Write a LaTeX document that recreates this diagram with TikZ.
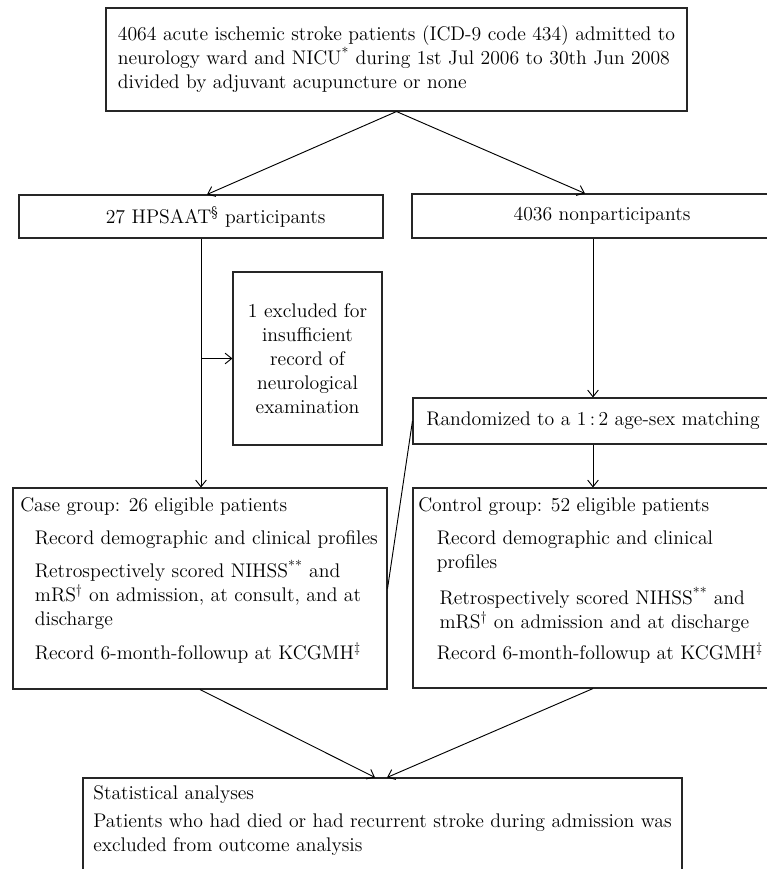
\documentclass[tikz,border=0pt]{standalone}
\usepackage{fontspec}
\usepackage{tikz}
\usetikzlibrary{positioning, arrows.meta, calc}

\newcommand{\boxfont}{\fontsize{14.8}{18}\selectfont}

\begin{document}
\begin{tikzpicture}[
    x=0.75pt, y=-0.75pt,
    box/.style={draw=black!85, rectangle, line width=0.8pt, inner sep=0pt, align=center, font=\boxfont},
    txt/.style={inner sep=0pt, align=left, anchor=north west, font=\boxfont},
    arrow/.style={-{Straight Barb[length=5pt, width=8pt]}, line width=0.7pt},
    link/.style={line width=0.7pt}
]
    \useasboundingbox (0,0) rectangle (767,869);
    \clip (0,0) rectangle (767,869);

    % --- Admission (Top) ---
    \node[box, align=left, minimum width=435.75pt, minimum height=77.25pt] (admit) at (396.5,59.5) {4064 acute ischemic stroke patients (ICD-9 code 434) admitted to\\ neurology ward and NICU\textsuperscript{*} during 1st Jul 2006 to 30th Jun 2008\\ divided by adjuvant acupuncture or none};

    % --- Split ---
    \node[box, minimum width=273pt, minimum height=32.25pt] (hpart) at (201,216.5) {\hspace*{22pt}27 HPSAAT\textsuperscript{\S} participants};
    \node[box, minimum width=285pt, minimum height=33pt] (npart) at (602,216) {4036 nonparticipants};

    \node[box, minimum width=111.75pt, minimum height=129.75pt] (excl) at (307.5,358.5) {1 excluded for\\ insufficient\\ record of\\ neurological\\ examination};
    \node[box, minimum width=270pt, minimum height=34.5pt] (rand) at (593,421) {Randomized to a 1\,:\,2 age-sex matching};

    % --- Groups ---
    \node[box, minimum width=280.5pt, minimum height=150.75pt] (case) at (200,588.5) {};
    \node[txt] (casetxt) at (20,497) {Case group: 26 eligible patients\\[7pt]
        \hspace*{11pt}Record demographic and clinical profiles\\[7pt]
        \hspace*{11pt}Retrospectively scored NIHSS\textsuperscript{**} and\\
        \hspace*{11pt}mRS\textsuperscript{\textdagger} on admission, at consult, and at\\
        \hspace*{11pt}discharge\\[7pt]
        \hspace*{11pt}Record 6-month-followup at KCGMH\textsuperscript{\textdaggerdbl}};

    \node[box, minimum width=270pt, minimum height=150pt] (ctrl) at (593,588) {};
    \node[txt] (ctrltxt) at (418,497) {Control group: 52 eligible patients\\[7pt]
        \hspace*{14pt}Record demographic and clinical\\
        \hspace*{14pt}profiles\\[9pt]
        \hspace*{16pt}Retrospectively scored NIHSS\textsuperscript{**} and\\
        \hspace*{16pt}mRS\textsuperscript{\textdagger} on admission and at discharge\\[5pt]
        \hspace*{14pt}Record 6-month-followup at KCGMH\textsuperscript{\textdaggerdbl}};

    % --- Analysis (Bottom) ---
    \node[box, minimum width=449.25pt, minimum height=76.5pt] (stat) at (382.5,829) {};
    \node[txt] (stattxt) at (93,785) {Statistical analyses\\[3pt]
        Patients who had died or had recurrent stroke during admission was\\
        excluded from outcome analysis};

    \draw[arrow] (admit.south) -- ($(hpart.north)+(6,0)$);
    \draw[arrow] (admit.south) -- ($(npart.north)+(-17,0)$);
    \draw[arrow] (hpart.south) -- (hpart.south |- case.north);
    \draw[arrow] (hpart.south |- excl.west) -- (excl.west);
    \draw[arrow] (rand.north |- npart.south) -- (rand.north);
    \draw[arrow] (rand.south) -- (ctrl.north);
    \draw[link] (rand.west) -- (case.east);
    \draw[arrow] (case.south) -- ($(stat.north)+(-7.5,0)$);
    \draw[arrow] (ctrl.south) -- ($(stat.north)+(4.5,0)$);
\end{tikzpicture}
\end{document}
